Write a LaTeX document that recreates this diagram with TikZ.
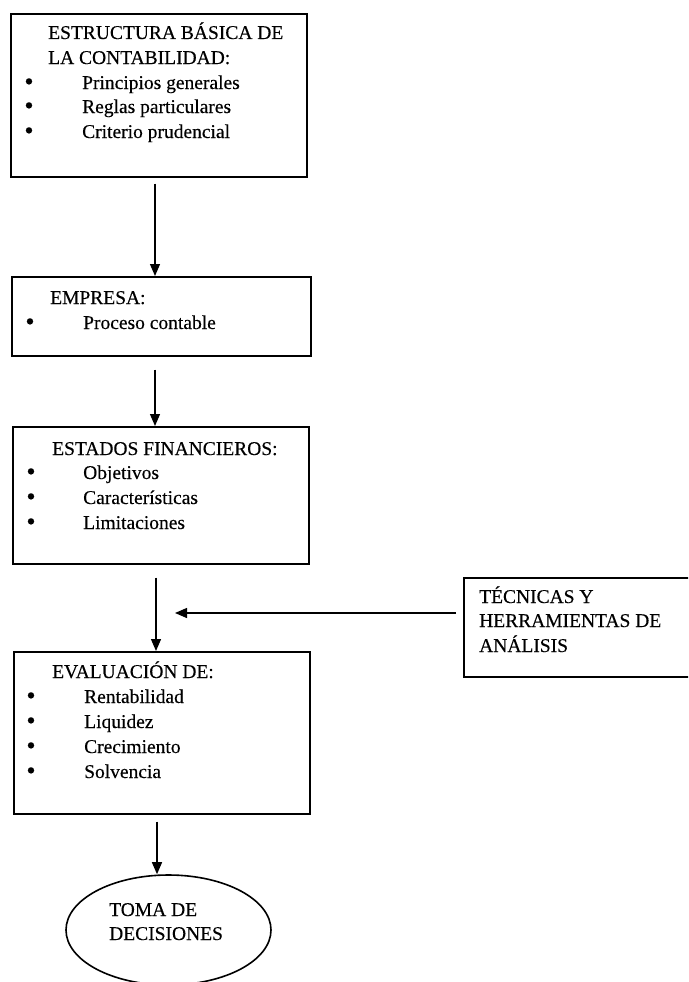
\documentclass[tikz,border=0pt]{standalone}
\usepackage{fontspec}
\setmainfont{Liberation Serif}[FakeBold=0.3]
\usetikzlibrary{arrows.meta,shapes.geometric}
\begin{document}
\begin{tikzpicture}[x=1pt,y=-1pt,
  box/.style={draw, line width=1.6pt, inner sep=0pt, anchor=north west},
  txt/.style={anchor=base west, inner sep=0pt, font=\fontsize{19.5}{25}\selectfont},
  bul/.style={anchor=base, inner sep=0pt, text height=12pt, text depth=0pt,
              font=\fontsize{26}{25}\selectfont},
  arr/.style={line width=1.3pt, -{Triangle[length=12pt,width=10pt]}}]
\useasboundingbox (0,0) rectangle (688,982);
\clip (0,0) rectangle (688,982);

% boxes
\node[box, minimum width=296pt, minimum height=163pt] (b1) at (10,13) {};
\node[box, minimum width=299pt, minimum height=79pt]  (b2) at (11,276) {};
\node[box, minimum width=296pt, minimum height=137pt] (b3) at (12,426) {};
\node[box, minimum width=296pt, minimum height=162pt] (b4) at (13,651) {};
\node[box, minimum width=240pt, minimum height=99pt]  (rb) at (463,577) {};
\node[draw, ellipse, line width=1.6pt, inner sep=0pt,
      minimum width=205pt, minimum height=110pt] (el) at (168.5,930) {};

% box 1 text
\node[txt] (t1a) at (48,39) {ESTRUCTURA BÁSICA DE};
\node[txt] (t1b) at (48,64) {LA CONTABILIDAD:};
\node[bul] (u1a) at (29,90) {•};
\node[bul] (u1b) at (29,114) {•};
\node[bul] (u1c) at (29,139) {•};
\node[txt] (i1a) at (82,89) {Principios generales};
\node[txt] (i1b) at (82,113) {Reglas particulares};
\node[txt] (i1c) at (82,138) {Criterio prudencial};

% box 2 text
\node[txt] (t2a) at (50,304) {EMPRESA:};
\node[bul] (u2a) at (30,330) {•};
\node[txt] (i2a) at (83,329) {Proceso contable};

% box 3 text
\node[txt] (t3a) at (52,455) {ESTADOS FINANCIEROS:};
\node[bul] (u3a) at (31,480) {•};
\node[bul] (u3b) at (31,505) {•};
\node[bul] (u3c) at (31,530) {•};
\node[txt] (i3a) at (83,479) {Objetivos};
\node[txt] (i3b) at (83,504) {Características};
\node[txt] (i3c) at (83,529) {Limitaciones};

% box 4 text
\node[txt] (t4a) at (52,678) {EVALUACIÓN DE:};
\node[bul] (u4a) at (31,704) {•};
\node[bul] (u4b) at (31,729) {•};
\node[bul] (u4c) at (31,754) {•};
\node[bul] (u4d) at (31,779) {•};
\node[txt] (i4a) at (84,703) {Rentabilidad};
\node[txt] (i4b) at (84,728) {Liquidez};
\node[txt] (i4c) at (84,753) {Crecimiento};
\node[txt] (i4d) at (84,778) {Solvencia};

% right box text
\node[txt] (r1) at (479,603) {TÉCNICAS Y};
\node[txt] (r2) at (479,627) {HERRAMIENTAS DE};
\node[txt] (r3) at (479,652) {ANÁLISIS};

% ellipse text
\node[txt] (e1) at (109,916) {TOMA DE};
\node[txt] (e2) at (109,940) {DECISIONES};

% connectors
\coordinate (hx) at (175,613);
\draw[arr, shorten <=6pt] (155,0 |- b1.south) -- (155,0 |- b2.north);
\draw[arr, shorten <=13pt] (155,0 |- b2.south) -- (155,0 |- b3.north);
\draw[arr, shorten <=13pt] (156,0 |- b3.south) -- (156,0 |- b4.north);
\draw[arr, shorten <=7pt] (157,0 |- b4.south) -- (157,0 |- el.north);
\draw[arr, shorten <=7pt] (rb.west |- hx) -- (hx);
\end{tikzpicture}
\end{document}
